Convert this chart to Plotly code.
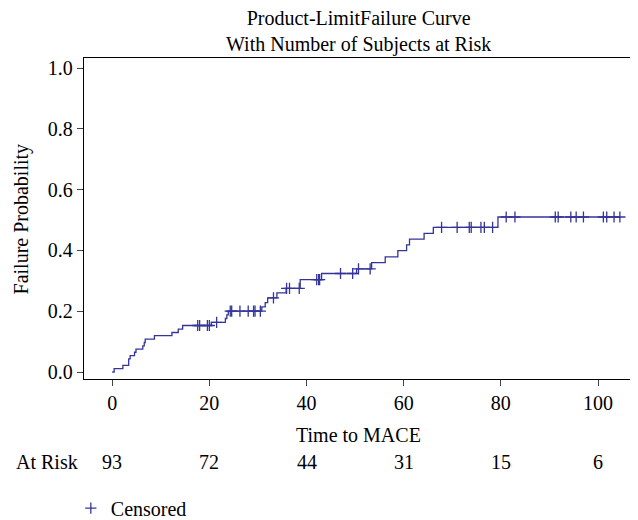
import numpy as np
import plotly.graph_objects as go

# Event times (failures) and failure probability after each event
event_time = [0.4, 2.2, 3.4, 3.7, 4.6, 4.9, 6.3, 6.6, 6.8, 8.7, 12.3, 13.6, 14.5,
              20.4, 23.3, 23.6, 23.9, 30.8, 31.5, 32.0, 33.9, 35.8, 38.7, 43.1,
              50.3, 53.4, 56.2, 58.8, 60.6, 61.2, 64.2, 66.1, 79.4]
event_fail = [0.011, 0.022, 0.043, 0.054, 0.065, 0.075, 0.086, 0.097, 0.108, 0.120,
              0.130, 0.141, 0.153, 0.163, 0.176, 0.188, 0.200, 0.214, 0.228, 0.244,
              0.260, 0.275, 0.304, 0.324, 0.339, 0.360, 0.379, 0.399, 0.418, 0.437,
              0.456, 0.476, 0.510]
# Censored times
censor_time = [17.6, 18.0, 19.6, 20.0, 21.5, 24.3, 24.6, 26.3, 28.0, 29.1, 29.4, 30.5,
               33.2, 35.9, 36.5, 38.5, 42.1, 42.5, 42.7, 47.0, 49.5, 50.7, 53.1,
               67.8, 71.0, 73.5, 73.9, 75.9, 76.6, 78.3, 81.1, 82.9, 91.2, 91.8,
               94.4, 95.5, 97.0, 101.1, 101.8, 103.3, 104.5]
# Number at risk table
risk_time = [0, 20, 40, 60, 80, 100]
risk_count = [93, 72, 44, 31, 15, 6]
y_ticks = [0.0, 0.2, 0.4, 0.6, 0.8, 1.0]
x_ticks = [0, 20, 40, 60, 80, 100]

LINE = "#34349a"
FONT = "Liberation Serif"

step_x = [0.0] + event_time + [max(censor_time)]
step_y = [0.0] + event_fail + [event_fail[-1]]

# failure probability at each censored time (value of the step function)
et = np.array(event_time)
ef = np.array([0.0] + event_fail)
censor_fail = ef[np.searchsorted(et, np.array(censor_time), side="right")]

fig = go.Figure()
fig.add_trace(go.Scatter(
    x=step_x, y=step_y, mode="lines", line=dict(color=LINE, width=1.3, shape="hv"),
    showlegend=False, hoverinfo="skip"))
fig.add_trace(go.Scatter(
    x=censor_time, y=censor_fail, mode="markers", name="Censored",
    marker=dict(symbol="cross-thin", size=8, color=LINE, line=dict(color=LINE, width=1.3)),
    showlegend=True))

# the page body adds an 8px offset, so the figure is 630x512
fig.update_layout(
    width=630, height=512,
    margin=dict(l=76, r=5, t=50, b=141, autoexpand=False),
    paper_bgcolor="white", plot_bgcolor="white",
    font=dict(family=FONT, size=20, color="black"),
    xaxis=dict(range=[-5.8, 107.2], tickvals=x_ticks, ticks="outside", ticklen=6,
               showline=True, linecolor="black", linewidth=1.3, mirror=True,
               showgrid=False, zeroline=False, tickfont=dict(size=20)),
    yaxis=dict(range=[-0.023, 1.033], tickvals=y_ticks, tickformat=".1f",
               ticks="outside", ticklen=6, showline=True, linecolor="black",
               linewidth=1.3, mirror=True, showgrid=False, zeroline=False,
               tickfont=dict(size=20)),
    legend=dict(x=-0.024, xanchor="left", y=-0.402, yanchor="middle",
                orientation="h", itemwidth=30, font=dict(size=20),
                bgcolor="rgba(0,0,0,0)"),
)

# Title (two lines)
fig.add_annotation(text="Product-LimitFailure Curve<br>With Number of Subjects at Risk",
                   xref="paper", yref="paper", x=0.5, y=1.081, xanchor="center",
                   yanchor="middle", showarrow=False, font=dict(size=20))

# Axis titles
fig.add_annotation(text="Time to MACE", xref="paper", yref="paper", x=0.5, y=-0.174,
                   xanchor="center", yanchor="middle", showarrow=False)
fig.add_annotation(text="Failure Probability", xref="paper", yref="paper", x=-0.113,
                   y=0.5, xanchor="center", yanchor="middle", textangle=-90,
                   showarrow=False)

# At risk row
fig.add_annotation(text="At Risk", xref="paper", yref="paper", x=-0.067, y=-0.259,
                   xanchor="center", yanchor="middle", showarrow=False)
for t, n in zip(risk_time, risk_count):
    fig.add_annotation(text=str(n), xref="x", yref="paper", x=t, y=-0.259,
                       xanchor="center", yanchor="middle", showarrow=False)

fig.write_html("out.html")
